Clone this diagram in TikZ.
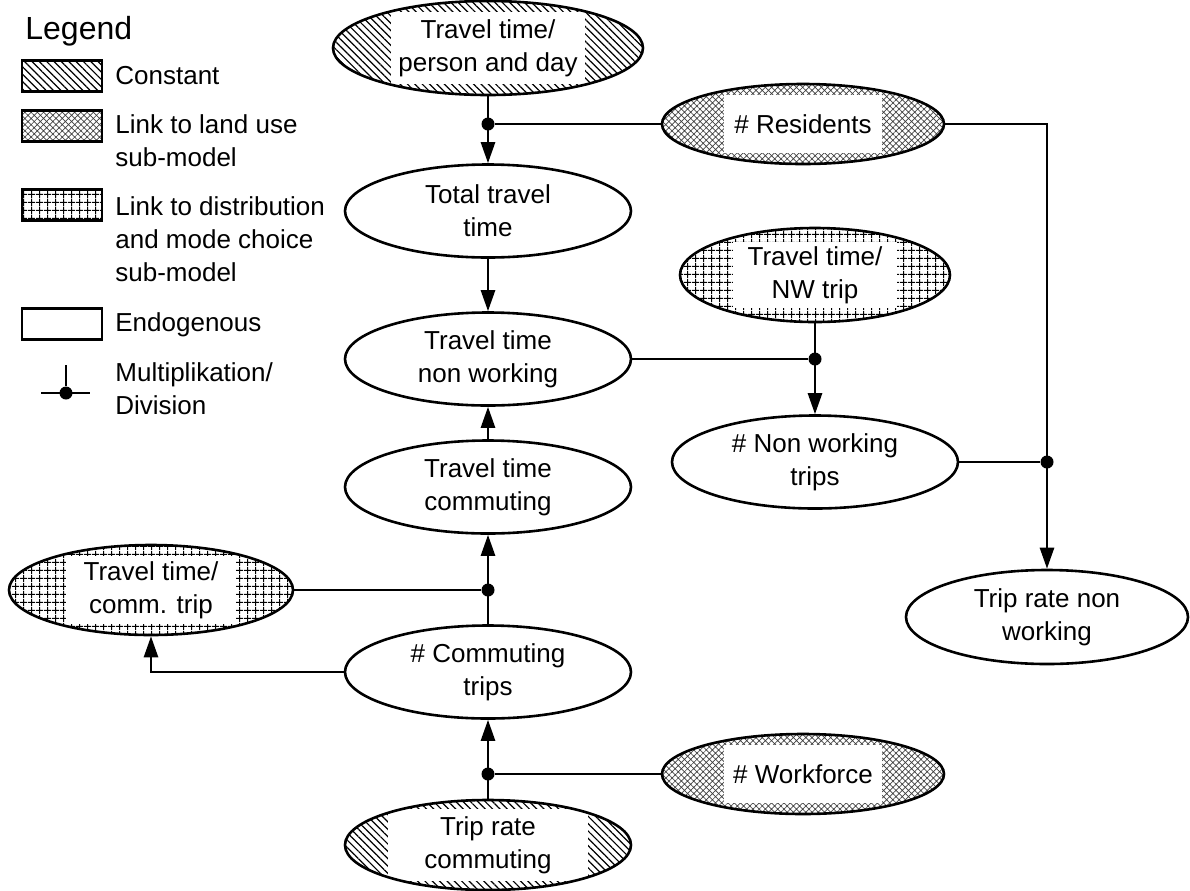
\documentclass[tikz,border=0pt]{standalone}
\usepackage{fontspec}
\setmainfont{Liberation Sans}
\usetikzlibrary{shapes.geometric,arrows.meta,patterns.meta}

\tikzset{
  box/.style={ellipse, draw, line width=1.3pt, inner sep=0pt, align=center,
    minimum width=143pt, minimum height=46.5pt},
  pconst/.style={pattern={Lines[angle=-45,distance=2.6pt,line width=0.6pt]}},
  pland/.style={pattern={Hatch[angle=45,distance=2.2pt,line width=0.35pt]}, pattern color=black!75},
  pdist/.style={pattern={Hatch[angle=0,distance=4pt,line width=0.5pt]}},
  wbox/.style 2 args={path picture={\fill[white]
      ([shift={(-#1,-#2)}]path picture bounding box.center) rectangle
      ([shift={(#1,#2)}]path picture bounding box.center);}},
  arr/.style={-{Triangle[length=10.5pt,width=7pt]}, line width=1.3pt},
  link/.style={line width=1.3pt},
  dot/.style={circle, fill, inner sep=0pt, minimum size=6.5pt},
  legbox/.style={draw, line width=1.3pt, minimum width=40pt, minimum height=15.5pt, inner sep=0pt},
  legtext/.style={anchor=west, align=left, inner sep=0pt},
}

\begin{document}
\begin{tikzpicture}[x=0.5pt, y=-0.5pt, font=\fontsize{13}{16.5}\selectfont]
  \useasboundingbox (0,0) rectangle (1190,890);

  % legend
  \node[anchor=west, inner sep=0pt, font=\fontsize{16}{19}\selectfont] (legend) at (25,31) {Legend};
  \node[legbox, pconst] (lconst) at (62,76) {};
  \node[legtext] (tconst) at (115,76) {Constant};
  \node[legbox, pland] (lland) at (62,126) {};
  \node[legtext] (tland) at (115,141) {Link to land use\\sub-model};
  \node[legbox, pdist] (ldist) at (62,205) {};
  \node[legtext] (tdist) at (115,239) {Link to distribution\\and mode choice\\sub-model};
  \node[legbox] (lendo) at (62,324) {};
  \node[legtext] (tendo) at (115,325) {Endogenous};
  \node[dot] (ldot) at (66,393) {};
  \draw[link] (66,365) -- (ldot) (41,393) -- (90,393);
  \node[legtext] (tmult) at (115,389) {Multiplikation/\\Division};

  % model
  \node[box, pconst, wbox={97}{36}, minimum width=155pt, minimum height=47pt] (ttday) at (488,48) {Travel time/\\person and day};
  \node[box, pland, wbox={79}{29}, minimum width=141pt, minimum height=40pt] (res) at (803,124) {\# Residents};
  \node[box] (total) at (488,211) {Total travel\\time};
  \node[box, pdist, wbox={82}{33}, minimum width=135pt, minimum height=47pt] (nwtt) at (815,275) {Travel time/\\NW trip};
  \node[box] (ttnw) at (488,359) {Travel time\\non working};
  \node[box] (nwtrips) at (815,462) {\# Non working\\trips};
  \node[box] (ttcomm) at (488,487) {Travel time\\commuting};
  \node[box, minimum width=141pt, minimum height=47pt] (trnw) at (1047,617) {Trip rate non\\working};
  \node[box, pdist, wbox={85}{34}, minimum width=142pt, minimum height=45pt] (cttrip) at (151,590) {Travel time/\\comm. trip};
  \node[box] (commtrips) at (488,672) {\# Commuting\\trips};
  \node[box, pland, wbox={79}{29}, minimum width=141pt, minimum height=40pt] (work) at (803,774) {\# Workforce};
  \node[box, pconst, wbox={100}{36}, minimum height=45pt] (trcomm) at (488,845) {Trip rate\\commuting};

  % junctions
  \node[dot] (j1) at (ttday |- res) {};
  \node[dot] (j2) at (nwtt |- ttnw) {};
  \node[dot] (j3) at (trnw |- nwtrips) {};
  \node[dot] (j4) at (commtrips |- cttrip) {};
  \node[dot] (j5) at (commtrips |- work) {};

  \draw[arr] (ttday) -- (total);
  \draw[link] (res) -- (j1);
  \draw[arr] (total) -- (ttnw);
  \draw[arr] (ttcomm) -- (ttnw);
  \draw[link] (ttnw) -- (j2);
  \draw[arr] (nwtt) -- (nwtrips);
  \draw[arr] (res) -| (trnw);
  \draw[link] (nwtrips) -- (j3);
  \draw[arr] (commtrips) -- (ttcomm);
  \draw[link] (cttrip) -- (j4);
  \draw[arr] (commtrips) -| (cttrip);
  \draw[arr] (trcomm) -- (commtrips);
  \draw[link] (work) -- (j5);
\end{tikzpicture}
\end{document}
